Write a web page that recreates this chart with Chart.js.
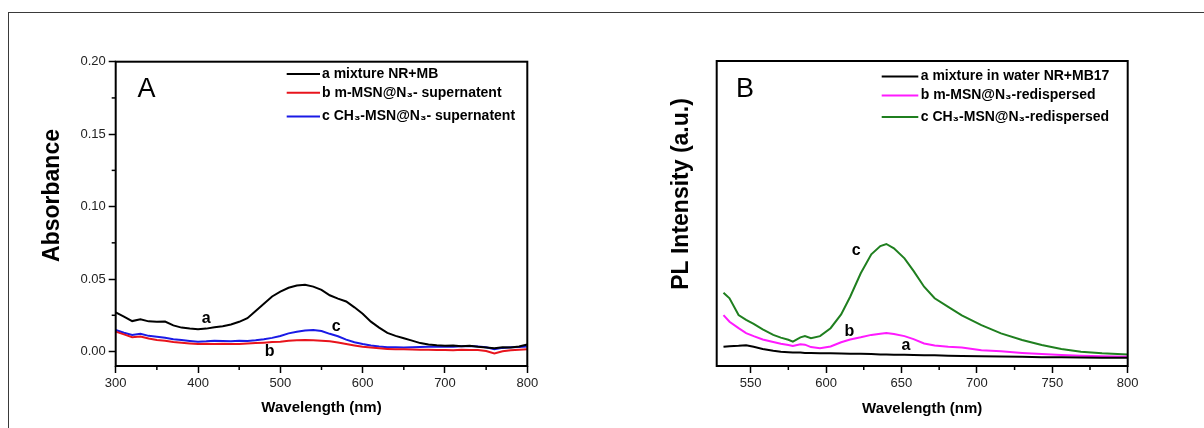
<!DOCTYPE html>
<html>
<head>
<meta charset="utf-8">
<script src="https://cdn.jsdelivr.net/npm/chart.js@4.4.1/dist/chart.umd.min.js"></script>
<style>
html,body{margin:0;padding:0;background:#fff;overflow:hidden;}
#wrap{position:relative;width:1204px;height:428px;overflow:hidden;}
#frame{position:absolute;left:8px;top:12px;width:1300px;height:500px;border:1px solid #3a3a3a;}
#cA{position:absolute;left:0;top:0;}
#cB{position:absolute;left:600px;top:0;}
</style>
</head>
<body>
<div id="wrap">
<div id="frame"></div>
<canvas id="cA" width="600" height="428"></canvas>
<canvas id="cB" width="604" height="428"></canvas>
</div>
<script>
// panel A - absorbance
const wlA = [300,310,320,330,340,350,360,370,380,390,400,410,420,430,440,450,460,470,480,490,500,
  510,520,530,540,550,560,570,580,590,600,610,620,630,640,650,660,670,680,690,700,
  710,720,730,740,750,760,770,780,790,800];
const absMix = [0.0270,0.0240,0.0210,0.0222,0.0208,0.0205,0.0207,0.0180,0.0165,0.0158,0.0153,
  0.0158,0.0167,0.0175,0.0187,0.0205,0.0230,0.0280,0.0330,0.0380,0.0413,
  0.0440,0.0455,0.0461,0.0448,0.0425,0.0388,0.0365,0.0345,0.0305,0.0260,
  0.0206,0.0165,0.0128,0.0108,0.0092,0.0075,0.0058,0.0048,0.0043,0.0040,
  0.0042,0.0037,0.0040,0.0033,0.0028,0.0022,0.0030,0.0028,0.0035,0.0048];
const absM = [0.0137,0.0118,0.0098,0.0104,0.0090,0.0079,0.0075,0.0066,0.0061,0.0056,0.0052,
  0.0053,0.0051,0.0053,0.0052,0.0052,0.0055,0.0058,0.0061,0.0065,0.0068,
  0.0074,0.0078,0.0079,0.0077,0.0074,0.0071,0.0062,0.0052,0.0042,0.0033,
  0.0027,0.0022,0.0018,0.0015,0.0016,0.0014,0.0013,0.0012,0.0010,0.0011,
  0.0009,0.0012,0.0010,0.0011,0.0004,-0.0013,0.0002,0.0009,0.0012,0.0015];
const absCH3 = [0.0148,0.0130,0.0114,0.0122,0.0108,0.0102,0.0095,0.0085,0.0079,0.0073,0.0068,
  0.0070,0.0074,0.0073,0.0071,0.0074,0.0073,0.0077,0.0084,0.0094,0.0107,
  0.0125,0.0137,0.0145,0.0148,0.0142,0.0122,0.0105,0.0082,0.0064,0.0052,
  0.0042,0.0035,0.0030,0.0029,0.0027,0.0030,0.0031,0.0033,0.0032,0.0034,
  0.0033,0.0036,0.0038,0.0034,0.0030,0.0016,0.0025,0.0029,0.0031,0.0034];
const namesA = ["a mixture NR+MB", "b m-MSN@N\u2083- supernatent", "c CH\u2083-MSN@N\u2083- supernatent"];
const xTicksA = [300,400,500,600,700,800];
const xMinorA = [350,450,550,650,750];
const yTicksA = [0,0.05,0.10,0.15,0.20];
const yMinorA = [0.025,0.075,0.125,0.175];

// panel B - PL
const wlB = [532,536,542,547,552,558,565,570,575,578,583,586,590,596,603,610,616,623,630,636,
  640,645,652,658,665,672,681,690,703,716,730,743,756,769,783,800];
const plMix = [6.3,6.5,6.6,6.8,6.3,5.6,5.0,4.7,4.5,4.4,4.4,4.3,4.3,4.2,4.2,4.1,4.0,4.0,3.9,3.8,
  3.8,3.7,3.7,3.6,3.5,3.5,3.4,3.3,3.2,3.1,3.0,2.9,2.9,2.8,2.7,2.7];
const plM = [16.7,14.5,12.4,10.8,9.8,8.7,7.9,7.3,6.9,6.6,7.1,7.0,6.2,5.8,6.4,7.8,8.7,9.4,10.2,10.6,
  10.8,10.5,9.8,8.8,7.4,6.7,6.3,6.1,5.2,4.8,4.3,3.9,3.6,3.4,3.2,3.0];
const plCH3 = [24.0,22.2,16.7,15.1,13.8,12.0,10.2,9.3,8.6,8.0,9.4,9.8,9.1,9.8,12.4,16.9,22.7,30.4,36.6,39.3,
  40.0,38.6,35.3,31.2,26.0,22.2,19.4,16.6,13.4,10.7,8.5,6.9,5.6,4.7,4.2,3.8];
const namesB = ["a mixture in water NR+MB17", "b m-MSN@N\u2083-redispersed", "c CH\u2083-MSN@N\u2083-redispersed"];
const xTicksB = [550,600,650,700,750,800];
const xMinorB = [575,625,675,725,775];

const NARROW = "'Liberation Sans Narrow', 'Liberation Sans', Arial, sans-serif";
const SANS = "'Liberation Sans', Arial, sans-serif";

function pts(xs, ys){
  return xs.map((x,i) => ({x:x, y:ys[i]}));
}

const paper = {
  id: 'paper',
  afterDraw(chart, args, o){
    const ctx = chart.ctx, a = chart.chartArea;
    const sx = chart.scales.x, sy = chart.scales.y;
    ctx.save();
    ctx.strokeStyle = '#000';
    ctx.lineWidth = 1.5;
    o.minorX.forEach(v => {
      const px = sx.getPixelForValue(v);
      ctx.beginPath(); ctx.moveTo(px, a.bottom); ctx.lineTo(px, a.bottom + 4); ctx.stroke();
    });
    o.minorY.forEach(v => {
      const py = sy.getPixelForValue(v);
      ctx.beginPath(); ctx.moveTo(a.left, py); ctx.lineTo(a.left - 4, py); ctx.stroke();
    });
    ctx.lineWidth = 2;
    ctx.strokeRect(a.left, a.top, a.right - a.left, a.bottom - a.top);

    ctx.fillStyle = '#000';
    ctx.textAlign = 'center';
    ctx.textBaseline = 'middle';
    ctx.font = '27px ' + SANS;
    ctx.fillText(o.panel, o.panelAt[0], o.panelAt[1]);

    ctx.save();
    ctx.translate(o.yTitleAt[0], o.yTitleAt[1]);
    ctx.rotate(-Math.PI / 2);
    ctx.font = 'bold 23px ' + SANS;
    ctx.fillText(o.yTitle, 0, 0);
    ctx.restore();

    ctx.font = 'bold 16px ' + SANS;
    o.marks.forEach(m => {
      ctx.fillText(m.t, sx.getPixelForValue(m.x), sy.getPixelForValue(m.y));
    });

    ctx.textAlign = 'left';
    ctx.font = 'bold 14px ' + SANS;
    chart.data.datasets.forEach((ds, i) => {
      const yy = o.legend.rows[i];
      ctx.strokeStyle = ds.borderColor;
      ctx.lineWidth = 2;
      ctx.beginPath(); ctx.moveTo(o.legend.x1, yy); ctx.lineTo(o.legend.x2, yy); ctx.stroke();
      ctx.fillText(ds.label, o.legend.tx, yy);
    });
    ctx.restore();
  }
};

function xAxis(min, max, ticks, padBottom){
  return {
    type: 'linear', min: min, max: max,
    afterBuildTicks: s => { s.ticks = ticks.map(v => ({value: v})); },
    afterFit: s => { s.height = 62; },
    grid: {display: true, drawOnChartArea: false, drawTicks: true, tickLength: 7, tickColor: '#000', tickWidth: 1.5},
    border: {display: false},
    ticks: {color: '#222', font: {family: NARROW, size: 13}, padding: 3, maxRotation: 0, autoSkip: false},
    title: {display: true, text: 'Wavelength (nm)', color: '#000',
      font: {family: SANS, size: 15, weight: 'bold'}, padding: {top: 0, bottom: padBottom}}
  };
}

function line(label, color, xs, ys){
  return {label: label, data: pts(xs, ys), borderColor: color, borderWidth: 2,
    pointRadius: 0, fill: false, tension: 0};
}

new Chart(document.getElementById('cA'), {
  type: 'line',
  data: {
    datasets: [
      line(namesA[0], '#000000', wlA, absMix),
      line(namesA[1], '#e8141c', wlA, absM),
      line(namesA[2], '#1a1ae6', wlA, absCH3)
    ]
  },
  options: {
    responsive: false, animation: false,
    layout: {padding: {left: 0, top: 61.7, right: 72.7, bottom: 0}},
    scales: {
      x: xAxis(300, 800, xTicksA, 11),
      y: {
        type: 'linear', min: -0.01, max: 0.2,
        afterBuildTicks: s => { s.ticks = yTicksA.map(v => ({value: v})); },
        afterFit: s => { s.width = 115.7; },
        grid: {display: true, drawOnChartArea: false, drawTicks: true, tickLength: 7, tickColor: '#000', tickWidth: 1.5},
        border: {display: false},
        ticks: {color: '#222', font: {family: NARROW, size: 13}, padding: 3, callback: v => v.toFixed(2)}
      }
    },
    plugins: {
      legend: {display: false},
      tooltip: {enabled: false},
      paper: {
        minorX: xMinorA, minorY: yMinorA,
        panel: 'A', panelAt: [146.5, 90],
        yTitle: 'Absorbance', yTitleAt: [53, 195.5],
        legend: {x1: 286.7, x2: 320, tx: 322, rows: [74, 92.7, 116.5]},
        marks: [{t: 'a', x: 410, y: 0.0228}, {t: 'b', x: 487, y: -0.0001}, {t: 'c', x: 568, y: 0.0174}]
      }
    }
  },
  plugins: [paper]
});

new Chart(document.getElementById('cB'), {
  type: 'line',
  data: {
    datasets: [
      line(namesB[0], '#000000', wlB, plMix),
      line(namesB[1], '#ff1aff', wlB, plM),
      line(namesB[2], '#1f7f1f', wlB, plCH3)
    ]
  },
  options: {
    responsive: false, animation: false,
    layout: {padding: {left: 116.7, top: 61, right: 76.3, bottom: 0}},
    scales: {
      x: xAxis(527.5, 800, xTicksB, 10),
      y: {type: 'linear', min: 0, max: 100, display: false}
    },
    plugins: {
      legend: {display: false},
      tooltip: {enabled: false},
      paper: {
        minorX: xMinorB, minorY: [],
        panel: 'B', panelAt: [145, 90],
        yTitle: 'PL Intensity (a.u.)', yTitleAt: [82, 194],
        legend: {x1: 281.7, x2: 318.3, tx: 320.7, rows: [76.5, 95.5, 117]},
        marks: [{t: 'c', x: 620, y: 37.8}, {t: 'b', x: 615.4, y: 11.2}, {t: 'a', x: 653, y: 6.7}]
      }
    }
  },
  plugins: [paper]
});
</script>
</body>
</html>
